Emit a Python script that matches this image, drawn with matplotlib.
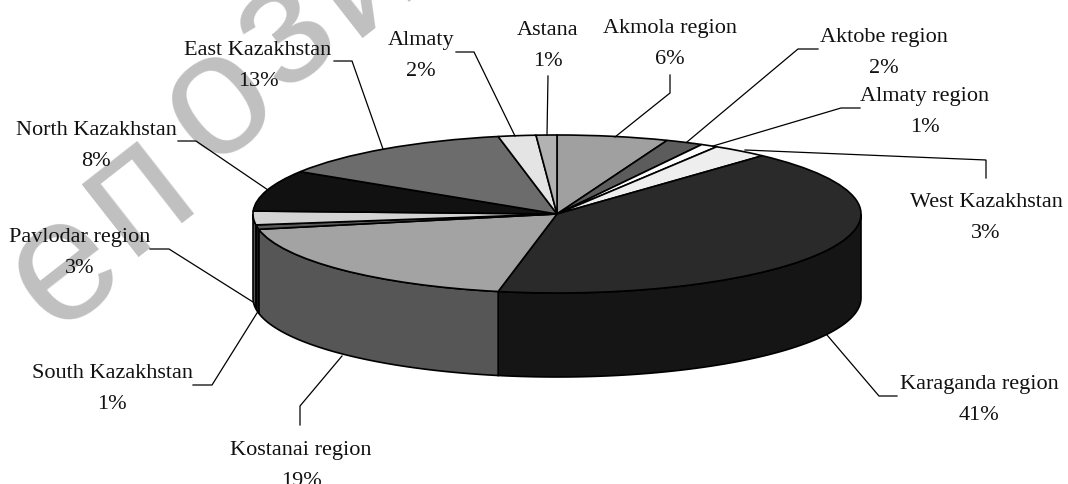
import numpy as np
import matplotlib
matplotlib.use("Agg")
import matplotlib.pyplot as plt

W, H = 1068, 484

# Slices, clockwise from 12 o'clock
regions = ["Akmola region", "Aktobe region", "Almaty region", "West Kazakhstan",
           "Karaganda region", "Kostanai region", "South Kazakhstan", "Pavlodar region",
           "North Kazakhstan", "East Kazakhstan", "Almaty", "Astana"]
labels_pct = [6, 2, 1, 3, 41, 19, 1, 3, 8, 13, 2, 1]
# shares as measured on the drawing (the printed labels are rounded)
shares = [5.9, 2.0, 0.9, 3.0, 41.3, 18.8, 0.9, 2.8, 8.4, 12.9, 2.0, 1.1]

top_colors = ["#a0a0a0", "#5c5c5c", "#ffffff", "#eeeeee", "#2a2a2a", "#a3a3a3",
              "#5a5a5a", "#d3d3d3", "#111111", "#6c6c6c", "#e4e4e4", "#b2b2b2"]
wall_colors = ["#707070", "#404040", "#b0b0b0", "#a0a0a0", "#151515", "#565656",
               "#1a1a1a", "#555555", "#080808", "#484848", "#a0a0a0", "#808080"]

# watermark letters and their centres, pixels
mark_letters = ["е", "п", "о", "з", "и"]
mark_pos = [(64, 268), (137, 192), (218, 102), (286, 32), (362, -28)]

# pie geometry, pixels
CX, CY = 557, 214
RX, RY = 304, 79
DEPTH = 84

# label centres and leader lines, pixels
label_pos = [(670, 44), (884, 53), (925, 112), (986, 218), (979, 400), (301, 466),
             (112, 389), (80, 253), (96, 146), (258, 66), (421, 56), (548, 46)]
leaders = [
    [(670, 75), (670, 93), (615, 137)],
    [(818, 49), (798, 49), (687, 142)],
    [(860, 108), (841, 108), (713, 146)],
    [(986, 178), (986, 160), (745, 150)],
    [(897, 396), (879, 396), (827, 335)],
    [(300, 425), (300, 406), (342, 356)],
    [(193, 385), (212, 385), (257, 313)],
    [(150, 249), (169, 249), (253, 302)],
    [(178, 141), (196, 141), (268, 190)],
    [(334, 61), (352, 61), (383, 149)],
    [(456, 52), (474, 52), (515, 136)],
    [(548, 76), (547, 135)],
]

fig = plt.figure(figsize=(W / 100, H / 100), dpi=100, facecolor="white")

# watermark, behind everything
ax_bg = fig.add_axes([0, 0, 1, 1])
ax_bg.set_xlim(0, W)
ax_bg.set_ylim(H, 0)
ax_bg.axis("off")
for letter, (mx, my) in zip(mark_letters, mark_pos):
    ax_bg.text(mx, my, letter, color="#c0c0c0", fontsize=126, family="Liberation Sans",
               rotation=38, rotation_mode="anchor", ha="center", va="center", clip_on=True)

# pie, one data unit = one radius
ax = fig.add_axes([0, 0, 1, 1])
ax.patch.set_alpha(0)

edges = np.cumsum([0] + shares) / sum(shares) * 360
for i in range(len(shares)):
    a0 = max(edges[i], 90)
    a1 = min(edges[i + 1], 270)
    if a1 <= a0:
        continue
    t = np.radians(np.linspace(a0, a1, 80))
    x = np.sin(t)
    y = np.cos(t)
    ax.fill(np.r_[x, x[::-1]], np.r_[y, y[::-1] - DEPTH / RY],
            facecolor=wall_colors[i], edgecolor="black", linewidth=1.2, zorder=1)

ax.pie(shares, colors=top_colors, startangle=90, counterclock=False, radius=1,
       wedgeprops={"edgecolor": "black", "linewidth": 1.2, "zorder": 2})
ax.set_aspect("auto")
ax.set_xlim(-CX / RX, (W - CX) / RX)
ax.set_ylim((CY - H) / RY, CY / RY)
ax.axis("off")

# labels and leaders
ax_top = fig.add_axes([0, 0, 1, 1])
ax_top.patch.set_alpha(0)
ax_top.set_xlim(0, W)
ax_top.set_ylim(H, 0)
ax_top.axis("off")

for line in leaders:
    xs, ys = zip(*line)
    ax_top.plot(xs, ys, color="black", linewidth=0.9, solid_joinstyle="miter")

for name, pct, (lx, ly) in zip(regions, labels_pct, label_pos):
    ax_top.text(lx, ly, f"{name}\n{pct}%", ha="center", va="center", multialignment="center",
                family="Liberation Serif", fontsize=16, color="#111111", linespacing=1.85)

fig.savefig("out.png", dpi=100, facecolor="white")
